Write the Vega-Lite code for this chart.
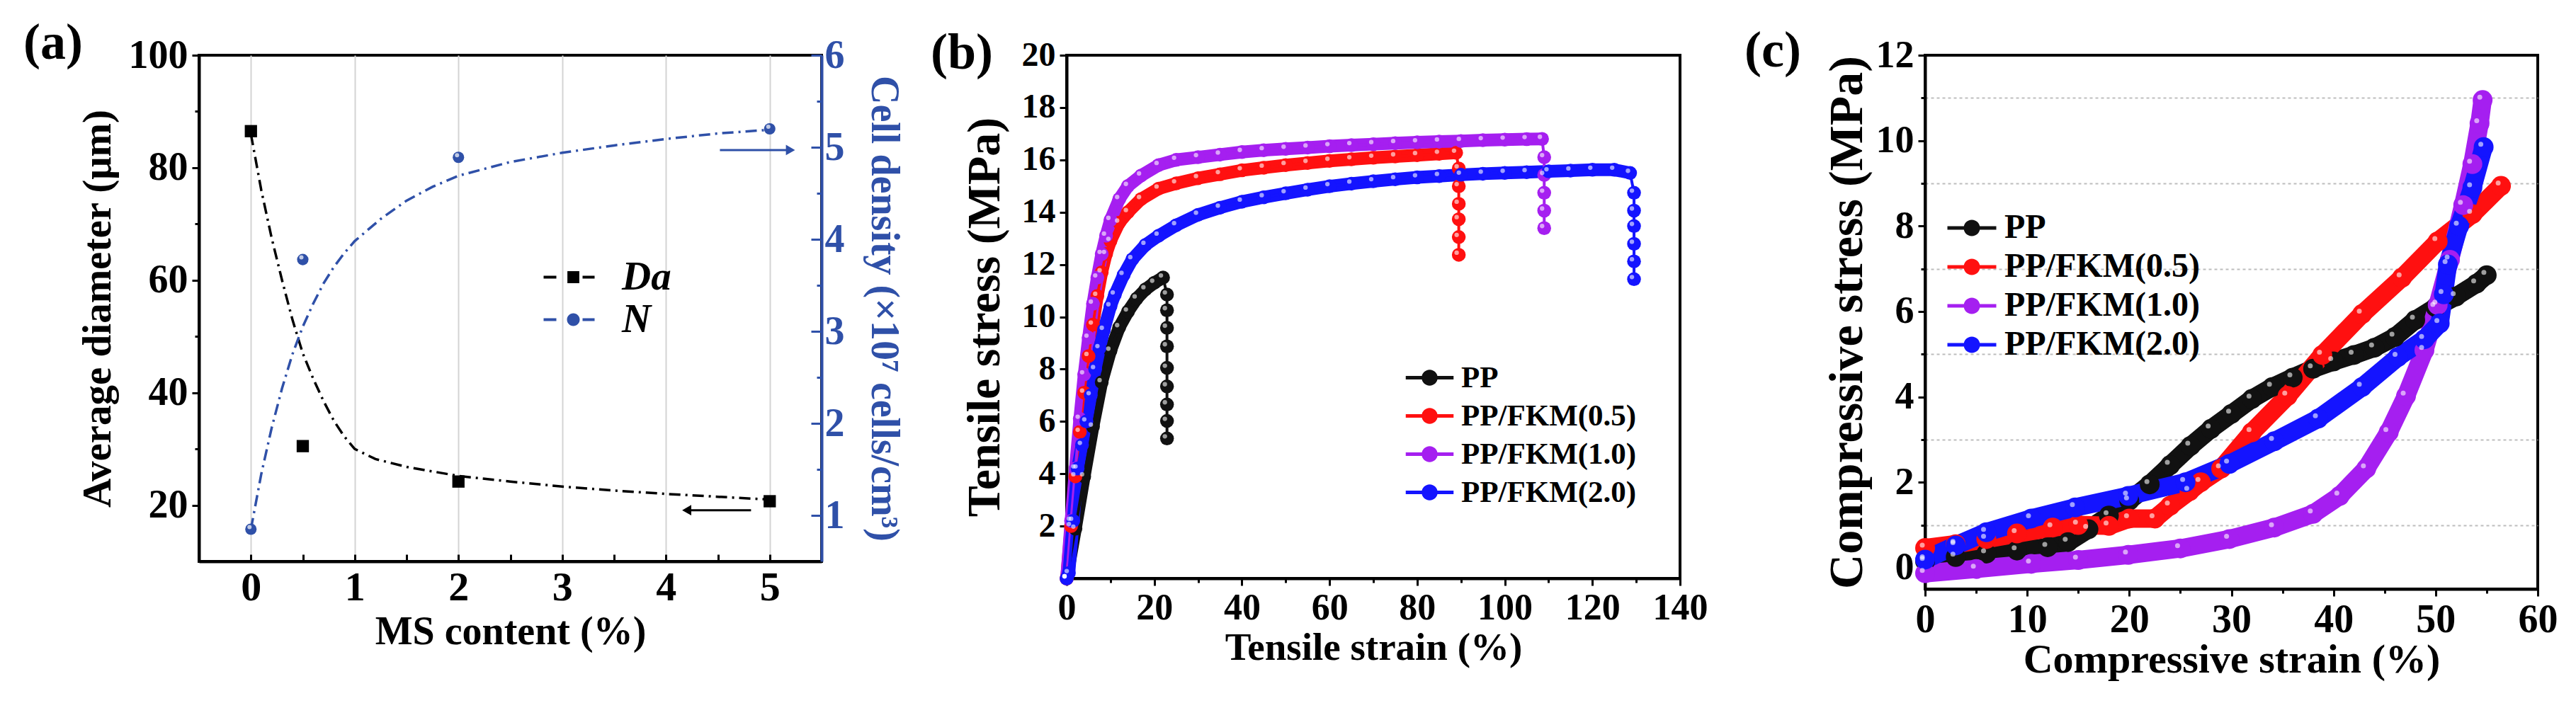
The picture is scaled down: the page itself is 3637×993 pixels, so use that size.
{
  "$schema": "https://vega.github.io/schema/vega-lite/v6.json",
  "padding": {"left": 31, "top": 23, "right": 5, "bottom": 5},
  "background": "white",
  "datasets": {
    "fitA": [
      {"ms": 0, "series": "Da", "value": 86}, {"ms": 0.1, "series": "Da", "value": 76}, {"ms": 0.2, "series": "Da", "value": 67.5},
      {"ms": 0.3, "series": "Da", "value": 60}, {"ms": 0.4, "series": "Da", "value": 53}, {"ms": 0.5, "series": "Da", "value": 47},
      {"ms": 0.6, "series": "Da", "value": 42.5}, {"ms": 0.7, "series": "Da", "value": 38.5}, {"ms": 0.8, "series": "Da", "value": 35},
      {"ms": 0.9, "series": "Da", "value": 32.2}, {"ms": 1.0, "series": "Da", "value": 30}, {"ms": 1.2, "series": "Da", "value": 28.2},
      {"ms": 1.5, "series": "Da", "value": 26.8}, {"ms": 2, "series": "Da", "value": 25.2}, {"ms": 2.5, "series": "Da", "value": 24.2},
      {"ms": 3, "series": "Da", "value": 23.3}, {"ms": 3.5, "series": "Da", "value": 22.6}, {"ms": 4, "series": "Da", "value": 22},
      {"ms": 4.5, "series": "Da", "value": 21.5}, {"ms": 5, "series": "Da", "value": 21},
      {"ms": 0, "series": "N", "value": 0.85}, {"ms": 0.1, "series": "N", "value": 1.45}, {"ms": 0.2, "series": "N", "value": 1.95},
      {"ms": 0.3, "series": "N", "value": 2.38}, {"ms": 0.4, "series": "N", "value": 2.75}, {"ms": 0.5, "series": "N", "value": 3.05},
      {"ms": 0.6, "series": "N", "value": 3.3}, {"ms": 0.7, "series": "N", "value": 3.52}, {"ms": 0.8, "series": "N", "value": 3.7},
      {"ms": 0.9, "series": "N", "value": 3.85}, {"ms": 1, "series": "N", "value": 3.98}, {"ms": 1.25, "series": "N", "value": 4.22},
      {"ms": 1.5, "series": "N", "value": 4.42}, {"ms": 1.75, "series": "N", "value": 4.57}, {"ms": 2, "series": "N", "value": 4.69},
      {"ms": 2.5, "series": "N", "value": 4.84}, {"ms": 3, "series": "N", "value": 4.94}, {"ms": 3.5, "series": "N", "value": 5.02},
      {"ms": 4, "series": "N", "value": 5.09}, {"ms": 4.5, "series": "N", "value": 5.15}, {"ms": 5, "series": "N", "value": 5.19}
    ],
    "ptsA": [
      {"ms": 0, "series": "Da", "value": 86.5}, {"ms": 0.5, "series": "Da", "value": 30.5},
      {"ms": 2, "series": "Da", "value": 24.2}, {"ms": 5, "series": "Da", "value": 20.7},
      {"ms": 0, "series": "N", "value": 0.85}, {"ms": 0.5, "series": "N", "value": 3.78},
      {"ms": 2, "series": "N", "value": 4.89}, {"ms": 5, "series": "N", "value": 5.2}
    ],
    "tensile": [
      {"series": "PP", "part": "curve", "strain": 0, "stress": 0}, {"series": "PP", "part": "curve", "strain": 2, "stress": 1.9},
      {"series": "PP", "part": "curve", "strain": 4, "stress": 3.9}, {"series": "PP", "part": "curve", "strain": 6, "stress": 5.8},
      {"series": "PP", "part": "curve", "strain": 8, "stress": 7.5}, {"series": "PP", "part": "curve", "strain": 10, "stress": 8.7},
      {"series": "PP", "part": "curve", "strain": 12, "stress": 9.6}, {"series": "PP", "part": "curve", "strain": 14, "stress": 10.2},
      {"series": "PP", "part": "curve", "strain": 16, "stress": 10.7}, {"series": "PP", "part": "curve", "strain": 18, "stress": 11.05},
      {"series": "PP", "part": "curve", "strain": 20, "stress": 11.3}, {"series": "PP", "part": "curve", "strain": 22, "stress": 11.5},
      {"series": "PP", "part": "drop", "strain": 22.9, "stress": 10.85}, {"series": "PP", "part": "drop", "strain": 22.9, "stress": 10.25},
      {"series": "PP", "part": "drop", "strain": 22.9, "stress": 9.58}, {"series": "PP", "part": "drop", "strain": 22.9, "stress": 8.87},
      {"series": "PP", "part": "drop", "strain": 22.9, "stress": 8.05}, {"series": "PP", "part": "drop", "strain": 22.9, "stress": 7.34},
      {"series": "PP", "part": "drop", "strain": 22.9, "stress": 6.65}, {"series": "PP", "part": "drop", "strain": 22.9, "stress": 6.02},
      {"series": "PP", "part": "drop", "strain": 22.9, "stress": 5.35},

      {"series": "PP/FKM(0.5)", "part": "curve", "strain": 0, "stress": 0}, {"series": "PP/FKM(0.5)", "part": "curve", "strain": 1, "stress": 2},
      {"series": "PP/FKM(0.5)", "part": "curve", "strain": 2, "stress": 3.9}, {"series": "PP/FKM(0.5)", "part": "curve", "strain": 3, "stress": 5.6},
      {"series": "PP/FKM(0.5)", "part": "curve", "strain": 4, "stress": 7.1}, {"series": "PP/FKM(0.5)", "part": "curve", "strain": 5, "stress": 8.5},
      {"series": "PP/FKM(0.5)", "part": "curve", "strain": 6, "stress": 9.7}, {"series": "PP/FKM(0.5)", "part": "curve", "strain": 7, "stress": 10.8},
      {"series": "PP/FKM(0.5)", "part": "curve", "strain": 8, "stress": 11.7}, {"series": "PP/FKM(0.5)", "part": "curve", "strain": 9, "stress": 12.4},
      {"series": "PP/FKM(0.5)", "part": "curve", "strain": 10, "stress": 12.9}, {"series": "PP/FKM(0.5)", "part": "curve", "strain": 12, "stress": 13.6},
      {"series": "PP/FKM(0.5)", "part": "curve", "strain": 14, "stress": 14.0}, {"series": "PP/FKM(0.5)", "part": "curve", "strain": 17, "stress": 14.5},
      {"series": "PP/FKM(0.5)", "part": "curve", "strain": 21, "stress": 14.9}, {"series": "PP/FKM(0.5)", "part": "curve", "strain": 25, "stress": 15.1},
      {"series": "PP/FKM(0.5)", "part": "curve", "strain": 30, "stress": 15.3}, {"series": "PP/FKM(0.5)", "part": "curve", "strain": 35, "stress": 15.45},
      {"series": "PP/FKM(0.5)", "part": "curve", "strain": 40, "stress": 15.6}, {"series": "PP/FKM(0.5)", "part": "curve", "strain": 45, "stress": 15.7},
      {"series": "PP/FKM(0.5)", "part": "curve", "strain": 50, "stress": 15.8}, {"series": "PP/FKM(0.5)", "part": "curve", "strain": 55, "stress": 15.88},
      {"series": "PP/FKM(0.5)", "part": "curve", "strain": 60, "stress": 15.96}, {"series": "PP/FKM(0.5)", "part": "curve", "strain": 65, "stress": 16.02},
      {"series": "PP/FKM(0.5)", "part": "curve", "strain": 70, "stress": 16.08}, {"series": "PP/FKM(0.5)", "part": "curve", "strain": 75, "stress": 16.13},
      {"series": "PP/FKM(0.5)", "part": "curve", "strain": 80, "stress": 16.18}, {"series": "PP/FKM(0.5)", "part": "curve", "strain": 85, "stress": 16.23},
      {"series": "PP/FKM(0.5)", "part": "curve", "strain": 88.9, "stress": 16.27},
      {"series": "PP/FKM(0.5)", "part": "drop", "strain": 89.5, "stress": 15.67}, {"series": "PP/FKM(0.5)", "part": "drop", "strain": 89.5, "stress": 14.99},
      {"series": "PP/FKM(0.5)", "part": "drop", "strain": 89.5, "stress": 14.32}, {"series": "PP/FKM(0.5)", "part": "drop", "strain": 89.5, "stress": 13.73},
      {"series": "PP/FKM(0.5)", "part": "drop", "strain": 89.5, "stress": 13.05}, {"series": "PP/FKM(0.5)", "part": "drop", "strain": 89.5, "stress": 12.37},

      {"series": "PP/FKM(1.0)", "part": "curve", "strain": 0, "stress": 0}, {"series": "PP/FKM(1.0)", "part": "curve", "strain": 1, "stress": 2.2},
      {"series": "PP/FKM(1.0)", "part": "curve", "strain": 2, "stress": 4.2}, {"series": "PP/FKM(1.0)", "part": "curve", "strain": 3, "stress": 6.1},
      {"series": "PP/FKM(1.0)", "part": "curve", "strain": 4, "stress": 7.8}, {"series": "PP/FKM(1.0)", "part": "curve", "strain": 5, "stress": 9.2},
      {"series": "PP/FKM(1.0)", "part": "curve", "strain": 6, "stress": 10.5}, {"series": "PP/FKM(1.0)", "part": "curve", "strain": 7, "stress": 11.5},
      {"series": "PP/FKM(1.0)", "part": "curve", "strain": 8, "stress": 12.4}, {"series": "PP/FKM(1.0)", "part": "curve", "strain": 9, "stress": 13.1},
      {"series": "PP/FKM(1.0)", "part": "curve", "strain": 10, "stress": 13.7}, {"series": "PP/FKM(1.0)", "part": "curve", "strain": 12, "stress": 14.5},
      {"series": "PP/FKM(1.0)", "part": "curve", "strain": 14, "stress": 15.0}, {"series": "PP/FKM(1.0)", "part": "curve", "strain": 17, "stress": 15.4},
      {"series": "PP/FKM(1.0)", "part": "curve", "strain": 21, "stress": 15.8}, {"series": "PP/FKM(1.0)", "part": "curve", "strain": 25, "stress": 16.0},
      {"series": "PP/FKM(1.0)", "part": "curve", "strain": 30, "stress": 16.1}, {"series": "PP/FKM(1.0)", "part": "curve", "strain": 35, "stress": 16.2},
      {"series": "PP/FKM(1.0)", "part": "curve", "strain": 40, "stress": 16.3}, {"series": "PP/FKM(1.0)", "part": "curve", "strain": 45, "stress": 16.37},
      {"series": "PP/FKM(1.0)", "part": "curve", "strain": 50, "stress": 16.42}, {"series": "PP/FKM(1.0)", "part": "curve", "strain": 55, "stress": 16.47},
      {"series": "PP/FKM(1.0)", "part": "curve", "strain": 60, "stress": 16.52}, {"series": "PP/FKM(1.0)", "part": "curve", "strain": 65, "stress": 16.56},
      {"series": "PP/FKM(1.0)", "part": "curve", "strain": 70, "stress": 16.6}, {"series": "PP/FKM(1.0)", "part": "curve", "strain": 75, "stress": 16.64},
      {"series": "PP/FKM(1.0)", "part": "curve", "strain": 80, "stress": 16.67}, {"series": "PP/FKM(1.0)", "part": "curve", "strain": 85, "stress": 16.7},
      {"series": "PP/FKM(1.0)", "part": "curve", "strain": 90, "stress": 16.72}, {"series": "PP/FKM(1.0)", "part": "curve", "strain": 95, "stress": 16.75},
      {"series": "PP/FKM(1.0)", "part": "curve", "strain": 100, "stress": 16.77}, {"series": "PP/FKM(1.0)", "part": "curve", "strain": 105, "stress": 16.79},
      {"series": "PP/FKM(1.0)", "part": "curve", "strain": 108.5, "stress": 16.8},
      {"series": "PP/FKM(1.0)", "part": "drop", "strain": 109, "stress": 16.1}, {"series": "PP/FKM(1.0)", "part": "drop", "strain": 109, "stress": 15.42},
      {"series": "PP/FKM(1.0)", "part": "drop", "strain": 109, "stress": 14.74}, {"series": "PP/FKM(1.0)", "part": "drop", "strain": 109, "stress": 14.06},
      {"series": "PP/FKM(1.0)", "part": "drop", "strain": 109, "stress": 13.39},

      {"series": "PP/FKM(2.0)", "part": "curve", "strain": 0, "stress": 0}, {"series": "PP/FKM(2.0)", "part": "curve", "strain": 0.5, "stress": 0.2},
      {"series": "PP/FKM(2.0)", "part": "curve", "strain": 1.5, "stress": 2.2}, {"series": "PP/FKM(2.0)", "part": "curve", "strain": 2.5, "stress": 4.2},
      {"series": "PP/FKM(2.0)", "part": "curve", "strain": 3.5, "stress": 5.1}, {"series": "PP/FKM(2.0)", "part": "curve", "strain": 4.5, "stress": 6.0},
      {"series": "PP/FKM(2.0)", "part": "curve", "strain": 5.5, "stress": 7.0}, {"series": "PP/FKM(2.0)", "part": "curve", "strain": 6.5, "stress": 8.0},
      {"series": "PP/FKM(2.0)", "part": "curve", "strain": 7.5, "stress": 8.8}, {"series": "PP/FKM(2.0)", "part": "curve", "strain": 8.5, "stress": 9.5},
      {"series": "PP/FKM(2.0)", "part": "curve", "strain": 10, "stress": 10.4}, {"series": "PP/FKM(2.0)", "part": "curve", "strain": 11, "stress": 10.85},
      {"series": "PP/FKM(2.0)", "part": "curve", "strain": 13, "stress": 11.6}, {"series": "PP/FKM(2.0)", "part": "curve", "strain": 15, "stress": 12.2},
      {"series": "PP/FKM(2.0)", "part": "curve", "strain": 18, "stress": 12.75}, {"series": "PP/FKM(2.0)", "part": "curve", "strain": 21, "stress": 13.1},
      {"series": "PP/FKM(2.0)", "part": "curve", "strain": 25, "stress": 13.5}, {"series": "PP/FKM(2.0)", "part": "curve", "strain": 30, "stress": 13.9},
      {"series": "PP/FKM(2.0)", "part": "curve", "strain": 35, "stress": 14.17}, {"series": "PP/FKM(2.0)", "part": "curve", "strain": 40, "stress": 14.4},
      {"series": "PP/FKM(2.0)", "part": "curve", "strain": 45, "stress": 14.57}, {"series": "PP/FKM(2.0)", "part": "curve", "strain": 50, "stress": 14.72},
      {"series": "PP/FKM(2.0)", "part": "curve", "strain": 55, "stress": 14.86}, {"series": "PP/FKM(2.0)", "part": "curve", "strain": 60, "stress": 14.99},
      {"series": "PP/FKM(2.0)", "part": "curve", "strain": 65, "stress": 15.09}, {"series": "PP/FKM(2.0)", "part": "curve", "strain": 70, "stress": 15.18},
      {"series": "PP/FKM(2.0)", "part": "curve", "strain": 75, "stress": 15.26}, {"series": "PP/FKM(2.0)", "part": "curve", "strain": 80, "stress": 15.33},
      {"series": "PP/FKM(2.0)", "part": "curve", "strain": 85, "stress": 15.38}, {"series": "PP/FKM(2.0)", "part": "curve", "strain": 90, "stress": 15.43},
      {"series": "PP/FKM(2.0)", "part": "curve", "strain": 95, "stress": 15.47}, {"series": "PP/FKM(2.0)", "part": "curve", "strain": 100, "stress": 15.5},
      {"series": "PP/FKM(2.0)", "part": "curve", "strain": 105, "stress": 15.53}, {"series": "PP/FKM(2.0)", "part": "curve", "strain": 110, "stress": 15.56},
      {"series": "PP/FKM(2.0)", "part": "curve", "strain": 115, "stress": 15.59}, {"series": "PP/FKM(2.0)", "part": "curve", "strain": 120, "stress": 15.62},
      {"series": "PP/FKM(2.0)", "part": "curve", "strain": 125, "stress": 15.62}, {"series": "PP/FKM(2.0)", "part": "curve", "strain": 128.6, "stress": 15.5},
      {"series": "PP/FKM(2.0)", "part": "drop", "strain": 129.5, "stress": 14.74}, {"series": "PP/FKM(2.0)", "part": "drop", "strain": 129.5, "stress": 14.06},
      {"series": "PP/FKM(2.0)", "part": "drop", "strain": 129.5, "stress": 13.47}, {"series": "PP/FKM(2.0)", "part": "drop", "strain": 129.5, "stress": 12.79},
      {"series": "PP/FKM(2.0)", "part": "drop", "strain": 129.5, "stress": 12.12}, {"series": "PP/FKM(2.0)", "part": "drop", "strain": 129.5, "stress": 11.44}
    ],
    "compress": [
      {"series": "PP", "strain": 0, "stress": 0.15}, {"series": "PP", "strain": 3, "stress": 0.25}, {"series": "PP", "strain": 6, "stress": 0.33},
      {"series": "PP", "strain": 9, "stress": 0.4}, {"series": "PP", "strain": 12, "stress": 0.48}, {"series": "PP", "strain": 14, "stress": 0.6},
      {"series": "PP", "strain": 16, "stress": 0.9}, {"series": "PP", "strain": 18, "stress": 1.22}, {"series": "PP", "strain": 20, "stress": 1.57},
      {"series": "PP", "strain": 22, "stress": 1.95}, {"series": "PP", "strain": 24, "stress": 2.4}, {"series": "PP", "strain": 26, "stress": 2.85},
      {"series": "PP", "strain": 28, "stress": 3.25}, {"series": "PP", "strain": 30, "stress": 3.6}, {"series": "PP", "strain": 32, "stress": 3.95},
      {"series": "PP", "strain": 34, "stress": 4.23}, {"series": "PP", "strain": 36, "stress": 4.45}, {"series": "PP", "strain": 38, "stress": 4.66},
      {"series": "PP", "strain": 40, "stress": 4.83}, {"series": "PP", "strain": 42, "stress": 4.98}, {"series": "PP", "strain": 44, "stress": 5.15},
      {"series": "PP", "strain": 46, "stress": 5.4}, {"series": "PP", "strain": 48, "stress": 5.8}, {"series": "PP", "strain": 50, "stress": 6.1},
      {"series": "PP", "strain": 52, "stress": 6.35}, {"series": "PP", "strain": 54, "stress": 6.65}, {"series": "PP", "strain": 55, "stress": 6.85},

      {"series": "PP/FKM(0.5)", "strain": 0, "stress": 0.46}, {"series": "PP/FKM(0.5)", "strain": 3, "stress": 0.55}, {"series": "PP/FKM(0.5)", "strain": 6, "stress": 0.67},
      {"series": "PP/FKM(0.5)", "strain": 9, "stress": 0.8}, {"series": "PP/FKM(0.5)", "strain": 12.5, "stress": 0.94}, {"series": "PP/FKM(0.5)", "strain": 15, "stress": 1.0},
      {"series": "PP/FKM(0.5)", "strain": 18, "stress": 0.98}, {"series": "PP/FKM(0.5)", "strain": 20, "stress": 1.15}, {"series": "PP/FKM(0.5)", "strain": 22.5, "stress": 1.15},
      {"series": "PP/FKM(0.5)", "strain": 24, "stress": 1.45}, {"series": "PP/FKM(0.5)", "strain": 25.9, "stress": 1.79}, {"series": "PP/FKM(0.5)", "strain": 27, "stress": 2.0},
      {"series": "PP/FKM(0.5)", "strain": 29, "stress": 2.32}, {"series": "PP/FKM(0.5)", "strain": 32, "stress": 3.17}, {"series": "PP/FKM(0.5)", "strain": 35.5, "stress": 4.02},
      {"series": "PP/FKM(0.5)", "strain": 38.9, "stress": 4.98}, {"series": "PP/FKM(0.5)", "strain": 42.8, "stress": 5.94}, {"series": "PP/FKM(0.5)", "strain": 46.7, "stress": 6.79},
      {"series": "PP/FKM(0.5)", "strain": 50.2, "stress": 7.64}, {"series": "PP/FKM(0.5)", "strain": 53.6, "stress": 8.28}, {"series": "PP/FKM(0.5)", "strain": 56.4, "stress": 8.94},

      {"series": "PP/FKM(1.0)", "strain": 0, "stress": -0.13}, {"series": "PP/FKM(1.0)", "strain": 5, "stress": -0.03}, {"series": "PP/FKM(1.0)", "strain": 10.4, "stress": 0.09},
      {"series": "PP/FKM(1.0)", "strain": 15, "stress": 0.18}, {"series": "PP/FKM(1.0)", "strain": 19.9, "stress": 0.3}, {"series": "PP/FKM(1.0)", "strain": 25, "stress": 0.45},
      {"series": "PP/FKM(1.0)", "strain": 29.8, "stress": 0.67}, {"series": "PP/FKM(1.0)", "strain": 34.2, "stress": 0.94}, {"series": "PP/FKM(1.0)", "strain": 38, "stress": 1.26},
      {"series": "PP/FKM(1.0)", "strain": 40.6, "stress": 1.68}, {"series": "PP/FKM(1.0)", "strain": 43.2, "stress": 2.32}, {"series": "PP/FKM(1.0)", "strain": 45.4, "stress": 3.17},
      {"series": "PP/FKM(1.0)", "strain": 47.1, "stress": 4.02}, {"series": "PP/FKM(1.0)", "strain": 48.9, "stress": 5.09}, {"series": "PP/FKM(1.0)", "strain": 50.2, "stress": 6.15},
      {"series": "PP/FKM(1.0)", "strain": 51.4, "stress": 7.21}, {"series": "PP/FKM(1.0)", "strain": 52.7, "stress": 8.49}, {"series": "PP/FKM(1.0)", "strain": 53.6, "stress": 9.45},
      {"series": "PP/FKM(1.0)", "strain": 54.3, "stress": 10.4}, {"series": "PP/FKM(1.0)", "strain": 54.6, "stress": 10.95},

      {"series": "PP/FKM(2.0)", "strain": 0, "stress": 0.19}, {"series": "PP/FKM(2.0)", "strain": 3, "stress": 0.52}, {"series": "PP/FKM(2.0)", "strain": 6, "stress": 0.83},
      {"series": "PP/FKM(2.0)", "strain": 10.4, "stress": 1.15}, {"series": "PP/FKM(2.0)", "strain": 14.7, "stress": 1.41}, {"series": "PP/FKM(2.0)", "strain": 19.9, "stress": 1.68},
      {"series": "PP/FKM(2.0)", "strain": 25.5, "stress": 2.0}, {"series": "PP/FKM(2.0)", "strain": 29.8, "stress": 2.43}, {"series": "PP/FKM(2.0)", "strain": 34.2, "stress": 2.96},
      {"series": "PP/FKM(2.0)", "strain": 38.5, "stress": 3.49}, {"series": "PP/FKM(2.0)", "strain": 42.8, "stress": 4.23}, {"series": "PP/FKM(2.0)", "strain": 46.3, "stress": 4.93},
      {"series": "PP/FKM(2.0)", "strain": 48.9, "stress": 5.35}, {"series": "PP/FKM(2.0)", "strain": 50.4, "stress": 5.72}, {"series": "PP/FKM(2.0)", "strain": 50.8, "stress": 6.4},
      {"series": "PP/FKM(2.0)", "strain": 51.2, "stress": 7.1}, {"series": "PP/FKM(2.0)", "strain": 52.3, "stress": 8.0}, {"series": "PP/FKM(2.0)", "strain": 53.6, "stress": 8.9},
      {"series": "PP/FKM(2.0)", "strain": 54.7, "stress": 9.85}
    ]
  },
  "hconcat": [
    {
      "width": 879,
      "height": 715,
      "title": {"text": "(a)", "anchor": "start", "frame": "group", "dx": -248, "offset": -48, "fontSize": 72},
      "layer": [
        {
          "layer": [
            {
              "data": {"name": "fitA"},
              "transform": [{"filter": "datum.series === 'Da'"}],
              "mark": {"type": "line", "color": "black", "strokeWidth": 3.5, "strokeDash": [16, 7, 3, 7]},
              "encoding": {
                "x": {
                  "field": "ms", "type": "quantitative",
                  "scale": {"domain": [-0.5, 5.5], "nice": false, "zero": false},
                  "axis": {
                    "title": "MS content (%)",
                    "values": [0, 0.5, 1, 1.5, 2, 2.5, 3, 3.5, 4, 4.5, 5],
                    "labelExpr": "datum.value % 1 === 0 ? format(datum.value, 'd') : ''",
                    "grid": true, "gridColor": "#d4d4d4", "gridWidth": 2,
                    "gridOpacity": {"condition": {"test": "datum.value % 1 === 0", "value": 1}, "value": 0},
                    "tickSize": -10,
                    "labelFontSize": 58, "titleFontSize": 56, "labelPadding": 18, "titlePadding": 6
                  }
                },
                "y": {
                  "field": "value", "type": "quantitative",
                  "scale": {"domain": [10, 100], "nice": false, "zero": false},
                  "axis": {
                    "title": "Average diameter (μm)",
                    "values": [20, 30, 40, 50, 60, 70, 80, 90, 100],
                    "labelExpr": "datum.value % 20 === 0 ? datum.label : ''",
                    "tickSize": {"condition": {"test": "datum.value % 20 === 0", "value": 10}, "value": 6},
                    "labelFontSize": 56, "titleFontSize": 57, "labelPadding": 6, "titlePadding": 14
                  }
                }
              }
            },
            {
              "data": {"name": "ptsA"},
              "transform": [{"filter": "datum.series === 'Da'"}],
              "mark": {"type": "point", "shape": "square", "filled": true, "size": 300, "color": "black", "opacity": 1},
              "encoding": {
                "x": {"field": "ms", "type": "quantitative"},
                "y": {"field": "value", "type": "quantitative"}
              }
            },
            {
              "data": {"values": [{}]},
              "mark": {"type": "rule", "color": "black", "strokeWidth": 3},
              "encoding": {"x": {"datum": 4.82}, "x2": {"datum": 4.22}, "y": {"datum": 19.1}}
            },
            {
              "data": {"values": [{}]},
              "mark": {"type": "point", "shape": "triangle-left", "filled": true, "size": 220, "color": "black", "opacity": 1},
              "encoding": {"x": {"datum": 4.2}, "y": {"datum": 19.1}}
            },
            {
              "data": {"name": "ptsA"},
              "mark": {"type": "point", "filled": true, "opacity": 0, "clip": true},
              "encoding": {
                "x": {"field": "ms", "type": "quantitative"},
                "y": {"field": "value", "type": "quantitative"},
                "fill": {
                  "field": "series", "type": "nominal",
                  "scale": {"domain": ["Da", "N"], "range": ["black", "#2f50a8"]},
                  "legend": {"orient": "none", "legendX": 500, "legendY": 285, "title": null, "symbolSize": 1600, "symbolStrokeWidth": 0, "symbolOpacity": 1, "labelFontSize": 57, "labelFontStyle": "italic", "labelOffset": 40, "rowPadding": 2, "labelLimit": 0}
                },
                "shape": {
                  "field": "series", "type": "nominal",
                  "scale": {"domain": ["Da", "N"], "range": [
                    "M-2.1,-0.1H-1.2V0.1H-2.1Z M0.65,-0.1H1.5V0.1H0.65Z M-0.42,-0.42H0.42V0.42H-0.42Z",
                    "M-2.1,-0.1H-1.2V0.1H-2.1Z M0.65,-0.1H1.5V0.1H0.65Z M0.45,0A0.45,0.45 0 1 1 -0.45,0A0.45,0.45 0 1 1 0.45,0Z"
                  ]},
                  "legend": {"orient": "none", "legendX": 500, "legendY": 285, "title": null, "symbolSize": 1600, "symbolStrokeWidth": 0, "symbolOpacity": 1, "labelFontSize": 57, "labelFontStyle": "italic", "labelOffset": 40, "rowPadding": 2, "labelLimit": 0}
                }
              }
            }
          ]
        },
        {
          "layer": [
            {
              "data": {"name": "fitA"},
              "transform": [{"filter": "datum.series === 'N'"}],
              "mark": {"type": "line", "color": "#2f50a8", "strokeWidth": 3.5, "strokeDash": [16, 7, 3, 7]},
              "encoding": {
                "x": {"field": "ms", "type": "quantitative"},
                "y": {
                  "field": "value", "type": "quantitative",
                  "scale": {"domain": [0.5, 6], "nice": false, "zero": false},
                  "axis": {
                    "orient": "right",
                    "title": "Cell density (×10⁷ cells/cm³)",
                    "values": [1, 1.5, 2, 2.5, 3, 3.5, 4, 4.5, 5, 5.5, 6],
                    "labelExpr": "datum.value % 1 === 0 ? format(datum.value, 'd') : ''",
                    "tickSize": {"condition": {"test": "datum.value % 1 === 0", "value": -15}, "value": -7},
                    "domainColor": "#2f50a8", "tickColor": "#2f50a8", "labelColor": "#2f50a8", "titleColor": "#2f50a8",
                    "labelFontSize": 56, "titleFontSize": 56, "labelPadding": 19, "titlePadding": 26
                  }
                }
              }
            },
            {
              "data": {"name": "ptsA"},
              "transform": [{"filter": "datum.series === 'N'"}],
              "mark": {"type": "circle", "size": 260, "color": "#2f50a8", "opacity": 1},
              "encoding": {
                "x": {"field": "ms", "type": "quantitative"},
                "y": {"field": "value", "type": "quantitative"}
              }
            },
            {
              "data": {"name": "ptsA"},
              "transform": [{"filter": "datum.series === 'N'"}],
              "mark": {"type": "circle", "size": 36, "color": "white", "opacity": 0.7, "xOffset": -2, "yOffset": -3},
              "encoding": {
                "x": {"field": "ms", "type": "quantitative"},
                "y": {"field": "value", "type": "quantitative"}
              }
            },
            {
              "data": {"values": [{}]},
              "mark": {"type": "rule", "color": "#2f50a8", "strokeWidth": 3},
              "encoding": {"x": {"datum": 4.52}, "x2": {"datum": 5.18}, "y": {"datum": 4.97}}
            },
            {
              "data": {"values": [{}]},
              "mark": {"type": "point", "shape": "triangle-right", "filled": true, "size": 220, "color": "#2f50a8", "opacity": 1},
              "encoding": {"x": {"datum": 5.2}, "y": {"datum": 4.97}}
            }
          ]
        }
      ],
      "resolve": {"scale": {"y": "independent"}}
    },
    {
      "width": 866,
      "height": 739,
      "title": {"text": "(b)", "anchor": "start", "frame": "group", "dx": -192, "offset": -58, "fontSize": 72},
      "data": {"name": "tensile"},
      "encoding": {
        "x": {
          "field": "strain", "type": "quantitative",
          "scale": {"domain": [0, 140], "nice": false},
          "axis": {
            "title": "Tensile strain (%)",
            "values": [0, 10, 20, 30, 40, 50, 60, 70, 80, 90, 100, 110, 120, 130, 140],
            "labelExpr": "datum.value % 20 === 0 ? datum.label : ''",
            "tickSize": {"condition": {"test": "datum.value % 20 === 0", "value": 10}, "value": 6},
            "labelFontSize": 52, "titleFontSize": 55, "labelPadding": 6, "titlePadding": 4
          }
        },
        "y": {
          "field": "stress", "type": "quantitative",
          "scale": {"domain": [0, 20], "nice": false},
          "axis": {
            "title": "Tensile stress (MPa)",
            "values": [2, 4, 6, 8, 10, 12, 14, 16, 18, 20],
            "tickSize": 10,
            "labelFontSize": 48, "titleFontSize": 66, "labelPadding": 6, "titlePadding": 18
          }
        }
      },
      "layer": [
        {
          "transform": [{"filter": "datum.part === 'curve'"}],
          "mark": {"type": "line", "strokeWidth": 18, "strokeCap": "round", "strokeJoin": "round"},
          "encoding": {
            "stroke": {"field": "series", "type": "nominal", "scale": {"range": ["#111111", "#ff1010", "#a51ff0", "#1414ff"]}, "legend": null},
            "order": {"value": null}
          }
        },
        {
          "mark": {"type": "line", "strokeWidth": 4},
          "encoding": {
            "stroke": {"field": "series", "type": "nominal", "scale": {"range": ["#111111", "#ff1010", "#a51ff0", "#1414ff"]}, "legend": null},
            "order": {"value": null}
          }
        },
        {
          "mark": {"type": "circle", "size": 380, "opacity": 1},
          "encoding": {
            "fill": {
              "field": "series", "type": "nominal",
              "scale": {"domain": ["PP", "PP/FKM(0.5)", "PP/FKM(1.0)", "PP/FKM(2.0)"], "range": ["#111111", "#ff1010", "#a51ff0", "#1414ff"]},
              "legend": {"orient": "none", "legendX": 490, "legendY": 433, "title": null, "symbolType": "M-1.5,-0.11H1.5V0.11H-1.5Z M0.5,0A0.5,0.5 0 1 1 -0.5,0A0.5,0.5 0 1 1 0.5,0Z", "symbolSize": 2025, "symbolStrokeWidth": 0, "symbolOpacity": 1, "labelFontSize": 43, "labelOffset": 22, "rowPadding": 9, "labelLimit": 0}
            }
          }
        },
        {
          "mark": {"type": "circle", "size": 40, "color": "white", "opacity": 0.6, "xOffset": -3, "yOffset": -3}
        }
      ]
    },
    {
      "width": 865,
      "height": 754,
      "title": {"text": "(c)", "anchor": "start", "frame": "group", "dx": -255, "offset": -58, "fontSize": 72},
      "data": {"name": "compress"},
      "encoding": {
        "x": {
          "field": "strain", "type": "quantitative",
          "scale": {"domain": [0, 60], "nice": false},
          "axis": {
            "title": "Compressive strain (%)",
            "values": [0, 5, 10, 15, 20, 25, 30, 35, 40, 45, 50, 55, 60],
            "labelExpr": "datum.value % 10 === 0 ? datum.label : ''",
            "tickSize": {"condition": {"test": "datum.value % 10 === 0", "value": 10}, "value": 6},
            "labelFontSize": 56, "titleFontSize": 58, "labelPadding": 6, "titlePadding": 0
          }
        },
        "y": {
          "field": "stress", "type": "quantitative",
          "scale": {"domain": [-0.5, 12], "nice": false, "zero": false},
          "axis": {
            "title": "Compressive stress (MPa)",
            "values": [0, 1, 2, 3, 4, 5, 6, 7, 8, 9, 10, 11, 12],
            "labelExpr": "datum.value % 2 === 0 ? datum.label : ''",
            "tickSize": {"condition": {"test": "datum.value % 2 === 0", "value": 10}, "value": 6},
            "grid": true, "gridDash": [4, 4], "gridColor": "#bdbdbd", "gridWidth": 2,
            "gridOpacity": {"condition": {"test": "datum.value % 2 === 1", "value": 1}, "value": 0},
            "labelFontSize": 54, "titleFontSize": 68, "labelPadding": 6, "titlePadding": 6
          }
        }
      },
      "layer": [
        {
          "mark": {"type": "line", "strokeWidth": 26, "strokeCap": "round", "strokeJoin": "round"},
          "encoding": {
            "stroke": {"field": "series", "type": "nominal", "scale": {"range": ["#111111", "#ff1010", "#a51ff0", "#1414ff"]}, "legend": null},
            "order": {"value": null}
          }
        },
        {
          "mark": {"type": "circle", "size": 784, "opacity": 1},
          "encoding": {
            "fill": {
              "field": "series", "type": "nominal",
              "scale": {"domain": ["PP", "PP/FKM(0.5)", "PP/FKM(1.0)", "PP/FKM(2.0)"], "range": ["#111111", "#ff1010", "#a51ff0", "#1414ff"]},
              "legend": {"orient": "none", "legendX": 42, "legendY": 220, "title": null, "symbolType": "M-1.5,-0.11H1.5V0.11H-1.5Z M0.5,0A0.5,0.5 0 1 1 -0.5,0A0.5,0.5 0 1 1 0.5,0Z", "symbolSize": 2116, "symbolStrokeWidth": 0, "symbolOpacity": 1, "labelFontSize": 48, "labelOffset": 22, "rowPadding": 7, "labelLimit": 0}
            }
          }
        },
        {
          "mark": {"type": "circle", "size": 49, "color": "white", "opacity": 0.6, "xOffset": -4, "yOffset": -4}
        }
      ]
    }
  ],
  "spacing": 346,
  "bounds": "flush",
  "resolve": {
    "scale": {"fill": "independent", "stroke": "independent", "shape": "independent"},
    "legend": {"fill": "independent", "shape": "independent"}
  },
  "config": {
    "font": "Liberation Serif",
    "view": {"stroke": "black", "strokeWidth": 4},
    "title": {"font": "Liberation Serif", "fontWeight": "bold", "fontSize": 64, "color": "black"},
    "axis": {
      "labelFont": "Liberation Serif", "labelFontWeight": "bold", "labelColor": "black",
      "titleFont": "Liberation Serif", "titleFontWeight": "bold", "titleColor": "black",
      "domainColor": "black", "domainWidth": 4, "tickColor": "black", "tickWidth": 3,
      "grid": false, "labelFlush": false, "labelOverlap": false
    },
    "legend": {"labelFont": "Liberation Serif", "labelFontWeight": "bold", "labelColor": "black"}
  }
}
